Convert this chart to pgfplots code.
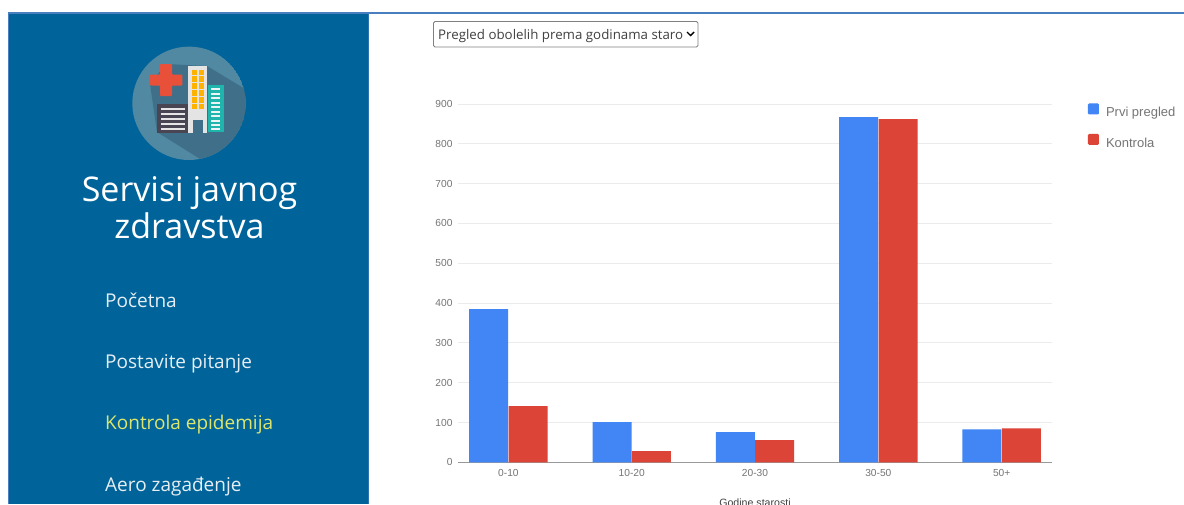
\documentclass[border=0pt]{standalone}
\usepackage{fontspec}
\setmainfont{Open Sans}
\newfontfamily\chartfont{Liberation Sans}
\usepackage{pgfplots}
\pgfplotsset{compat=1.18}
\definecolor{sidebar}{HTML}{00649A}
\definecolor{edge}{HTML}{4A7FBF}
\definecolor{primary}{HTML}{4285F4}
\definecolor{control}{HTML}{DB4437}
\definecolor{gridc}{HTML}{EBEBEB}
\definecolor{baseline}{HTML}{999999}
\definecolor{labelc}{HTML}{757575}
\definecolor{menu}{HTML}{E6EEF3}
\definecolor{active}{HTML}{DDE66C}
\definecolor{disc}{HTML}{5189A2}
\definecolor{discshade}{HTML}{3F6F89}
\definecolor{crossc}{HTML}{E8503A}
\definecolor{blockc}{HTML}{4A4553}
\definecolor{windowc}{HTML}{FFB300}
\definecolor{tealc}{HTML}{1FB5AD}
\definecolor{towerc}{HTML}{E4E4E4}
\begin{document}
\begin{tikzpicture}[x=1pt,y=-1pt]
\useasboundingbox (0,0) rectangle (1184,504);
\clip (0,0) rectangle (1184,504);
\fill[white] (0,0) rectangle (1184,504);
% side panel and page frame
\fill[sidebar] (9,14) rectangle (368,504);
\draw[edge,line width=1pt] (8.5,504) -- (8.5,13.5);
\draw[edge,line width=2pt] (8,13) -- (1184,13);
\draw[edge!60!sidebar,line width=0.6pt] (368.3,14) -- (368.3,504);
% logo
\begin{scope}
\clip (189,103.3) circle (56.7);
\fill[disc] (189,103.3) circle (56.7);
\fill[discshade] (166,64) -- (207,66) -- (250,92) -- (250,190) -- (205,162) -- (157,132) -- (150,84) -- cycle;
\end{scope}
\fill[crossc,rounded corners=0.8pt] (160,64) -- (172,64) -- (172,74.5) -- (182.3,74.5) -- (182.3,85.5) -- (172,85.5) -- (172,96) -- (160,96) -- (160,85.5) -- (150,85.5) -- (150,74.5) -- (160,74.5) -- cycle;
% low dark block
\fill[blockc] (157.3,104.3) rectangle (188,132.7);
\foreach \y in {109,114,119,124,129}
  \fill[white!90!black] (160.7,\y-1.3) rectangle (185,\y+1.3);
% tower
\fill[towerc] (188.3,66) rectangle (207.3,132.7);
\foreach \y in {69.5,76.4,83.3,90.2,97.1,104}
  \foreach \x in {192,198.5}
    \fill[windowc] (\x,\y) rectangle (\x+5.2,\y+5.4);
\fill[discshade] (192.7,120) rectangle (203.3,132.7);
% teal block
\fill[tealc] (208.3,85) rectangle (223.7,131.7);
\foreach \y in {89,93.5,98,102.5,107,111.5,116,120.5,125,129}
  \fill[white!92!teal] (211,\y-1) rectangle (220,\y+1);
% panel title and menu
\node[white,font=\fontsize{34}{34}\selectfont,anchor=base,inner sep=0pt] at (189.5,201) {Servisi javnog};
\node[white,font=\fontsize{34}{34}\selectfont,anchor=base,inner sep=0pt] at (189.5,238) {zdravstva};
\node[menu,font=\fontsize{19}{19}\selectfont,anchor=base west,inner sep=0pt] at (105,307) {Početna};
\node[menu,font=\fontsize{19}{19}\selectfont,anchor=base west,inner sep=0pt] at (105,368) {Postavite pitanje};
\node[active,font=\fontsize{19}{19}\selectfont,anchor=base west,inner sep=0pt] at (105,429) {Kontrola epidemija};
\node[menu,font=\fontsize{19}{19}\selectfont,anchor=base west,inner sep=0pt] at (105,491) {Aero zagađenje};
% drop-down selector
\draw[black!50,line width=0.9pt,rounded corners=1.5pt,fill=white] (433.5,21.5) rectangle (698,47);
\node[black!75,font=\fontsize{13.3}{14}\selectfont,anchor=base west,inner sep=0pt] at (438,39.5) {Pregled obolelih prema godinama staro};
\draw[black,line width=1.4pt] (687,32) -- (690.5,35.5) -- (694,32);
% chart
\begin{axis}[
  at={(458pt,-462.3pt)}, anchor=south west,
  scale only axis, width=594pt, height=358.3pt,
  xmin=-0.4086, xmax=4.408, ymin=0, ymax=900,
  ybar, bar width=39pt,
  axis x line=bottom, axis y line=left,
  axis line style={-},
  x axis line style={draw=baseline,line width=0.9pt},
  y axis line style={draw=none},
  major tick length=0pt,
  xtick={0,1,2,3,4},
  xticklabels={0-10,10-20,20-30,30-50,50+},
  ytick={0,100,...,900},
  ymajorgrids, grid style={draw=gridc,line width=0.9pt},
  /pgf/number format/assume math mode=true,
  tick label style={font=\chartfont\fontsize{10.2}{11}\selectfont,text=labelc},
  yticklabel style={xshift=-2pt},
  xticklabel style={yshift=-4pt},
  xlabel={Godine starosti},
  every axis x label/.style={at={(axis description cs:0.5,0)},anchor=center,yshift=-40.5pt,
    font=\chartfont\fontsize{10.6}{11}\selectfont,text=black!75},
  legend style={draw=none,fill=none,at={(1.0606,1.0015)},anchor=north west,
    font=\chartfont\fontsize{13}{14}\selectfont,text=labelc,
    row sep=13.5pt,inner sep=0pt,outer sep=0pt,
    /tikz/every odd column/.append style={column sep=5pt}},
  legend cell align=left,
  legend image code/.code={\fill[#1,rounded corners=1.2pt] (0pt,-1.5pt) rectangle (11pt,9.5pt);},
]
\addplot[fill=primary,draw=none,bar shift=-19.7pt] coordinates {(0,385) (1,101) (2,76) (3,867) (4,83)};
\addlegendentry{Prvi pregled}
\addplot[fill=control,draw=none,bar shift=19.7pt] coordinates {(0,141) (1,28) (2,56) (3,862) (4,85)};
\addlegendentry{Kontrola}
\end{axis}
\end{tikzpicture}
\end{document}
